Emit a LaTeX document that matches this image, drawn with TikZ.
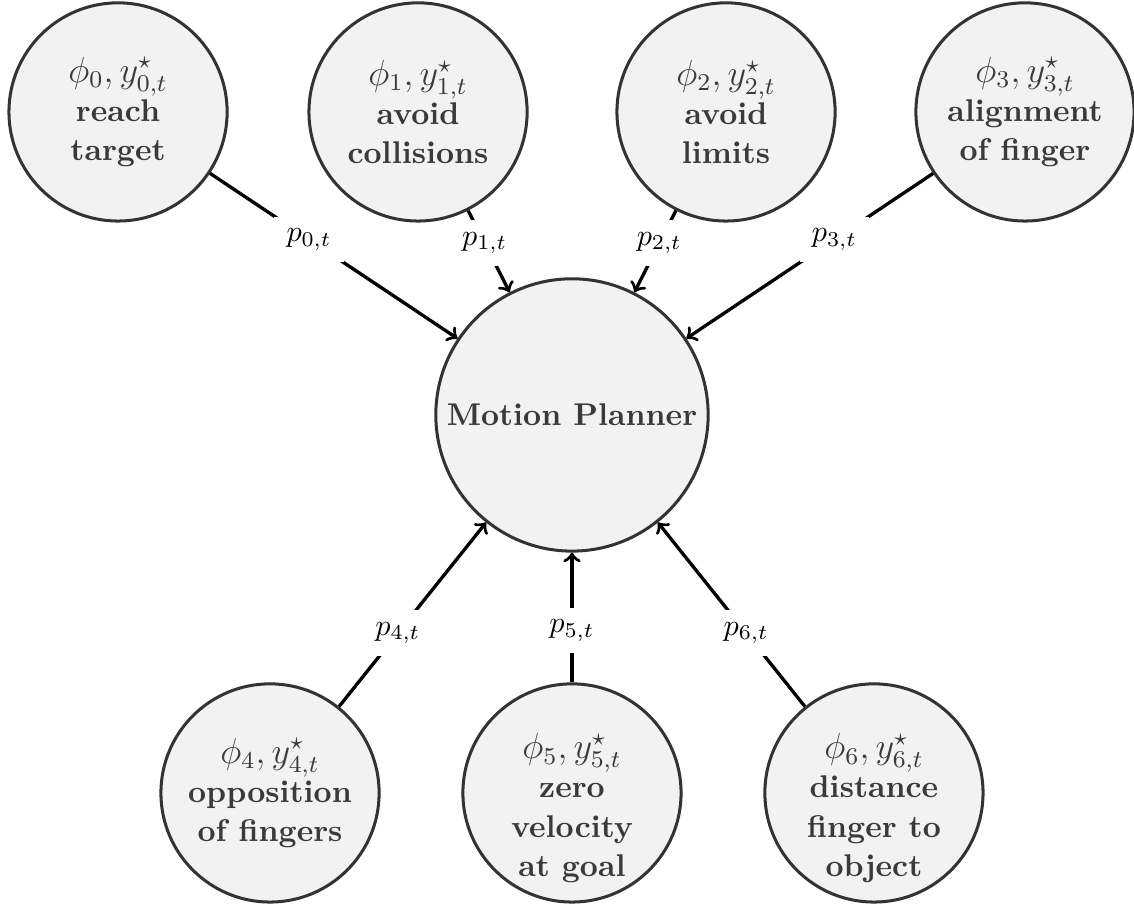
\documentclass[tikz,border=0pt]{standalone}
\usepackage{tikz}

\definecolor{nodefill}{HTML}{F2F2F2}
\definecolor{nodeline}{HTML}{333333}
\definecolor{nodetext}{HTML}{3A3A3A}

\begin{document}
\begin{tikzpicture}[
  tasktext/.style={align=center,text=nodetext,inner sep=0pt,
    font=\fontsize{10.4}{13}\selectfont\bfseries},
  task/.style={tasktext,draw=nodeline,fill=nodefill,circle,line width=1pt,
    minimum size=2.54cm},
  planner/.style={task,minimum size=3.17cm},
  lbl/.style={fill=white,inner sep=4pt,pos=0.4,font=\fontsize{10.4}{13}\selectfont},
  conn/.style={->,line width=1.1pt}
]
\useasboundingbox (0,0) rectangle (13.2,10.58);

% motion planner in the middle
\node [planner] (mp) at (6.658,5.75) {Motion Planner};

% tasks above
\node [task] (t0) at (1.374,9.277) {{\large$\phi_0, y^\star_{0,t}$}\\reach\\target};
\node [task] (t1) at (4.866,9.277) {{\large$\phi_1, y^\star_{1,t}$}\\avoid\\collisions};
\node [task] (t2) at (8.451,9.277) {{\large$\phi_2, y^\star_{2,t}$}\\avoid\\limits};
\node [task] (t3) at (11.931,9.277) {{\large$\phi_3, y^\star_{3,t}$}\\alignment\\of finger};

% tasks below
\node [task] (t4) at (3.143,1.35) {{\large$\phi_4, y^\star_{4,t}$}\\opposition\\of fingers};
\node [task] (t5) at (6.658,1.35) {};
\node [tasktext] (t5txt) at ([yshift=-5pt]t5.center) {{\large$\phi_5, y^\star_{5,t}$}\\zero\\velocity\\at goal};
\node [task] (t6) at (10.173,1.35) {};
\node [tasktext] (t6txt) at ([yshift=-5pt]t6.center) {{\large$\phi_6, y^\star_{6,t}$}\\distance\\finger to\\object};

\draw [conn] (t0) -- node[lbl]{$p_{0,t}$} (mp);
\draw [conn] (t1) -- node[lbl]{$p_{1,t}$} (mp);
\draw [conn] (t2) -- node[lbl]{$p_{2,t}$} (mp);
\draw [conn] (t3) -- node[lbl]{$p_{3,t}$} (mp);
\draw [conn] (t4) -- node[lbl]{$p_{4,t}$} (mp);
\draw [conn] (t5) -- node[lbl]{$p_{5,t}$} (mp);
\draw [conn] (t6) -- node[lbl]{$p_{6,t}$} (mp);
\end{tikzpicture}
\end{document}
